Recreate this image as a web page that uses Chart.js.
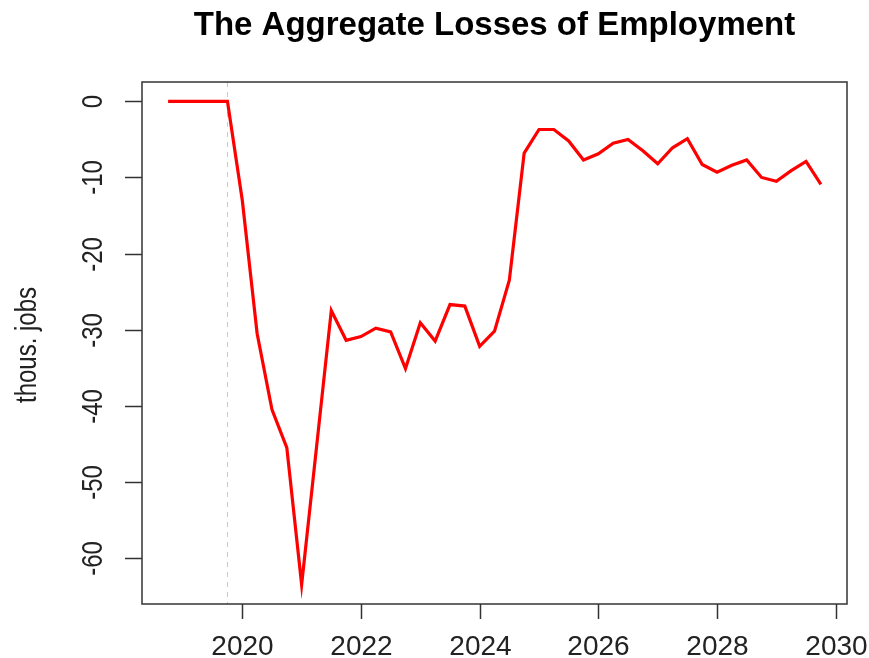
<!DOCTYPE html>
<html><head><meta charset="utf-8">
<script src="https://cdn.jsdelivr.net/npm/chart.js@4.4.1/dist/chart.umd.min.js"></script>
<style>html,body{margin:0;padding:0;background:#fff;}canvas{display:block;}</style>
</head><body>
<canvas id="c" width="869" height="658"></canvas>
<script>
// ---- data ----
const quarters = [2018.75, 2019.00, 2019.25, 2019.50, 2019.75,
  2020.00, 2020.25, 2020.50, 2020.75, 2021.00, 2021.25, 2021.50, 2021.75,
  2022.00, 2022.25, 2022.50, 2022.75, 2023.00, 2023.25, 2023.50, 2023.75,
  2024.00, 2024.25, 2024.50, 2024.75, 2025.00, 2025.25, 2025.50, 2025.75,
  2026.00, 2026.25, 2026.50, 2026.75, 2027.00, 2027.25, 2027.50, 2027.75,
  2028.00, 2028.25, 2028.50, 2028.75, 2029.00, 2029.25, 2029.50, 2029.75];
const losses = [0, 0, 0, 0, 0,
  -13.0, -30.5, -40.5, -45.5, -63.5, -45.5, -27.5, -31.4,
  -30.9, -29.8, -30.3, -35.1, -29.1, -31.5, -26.7, -26.9,
  -32.2, -30.2, -23.5, -6.8, -3.7, -3.7, -5.2, -7.7,
  -6.9, -5.5, -5.0, -6.5, -8.2, -6.1, -4.9, -8.3,
  -9.3, -8.4, -7.7, -10.0, -10.5, -9.1, -7.9, -10.9];
const xTickValues = [2020, 2022, 2024, 2026, 2028, 2030];
const yTickValues = [0, -10, -20, -30, -40, -50, -60];
const markerYear = 2019.75;
const titleText = 'The Aggregate Losses of Employment';
const yAxisTitle = 'thous. jobs';

const FONT = "'Liberation Sans', Arial, Helvetica, sans-serif";

const rStyle = {
  id: 'rStyle',
  beforeDatasetsDraw(chart) {
    const {ctx, chartArea: a, scales: {x}} = chart;
    const px = x.getPixelForValue(markerYear);
    ctx.save();
    ctx.strokeStyle = '#c8c8c8';
    ctx.lineWidth = 1;
    ctx.setLineDash([5, 5]);
    ctx.beginPath();
    ctx.moveTo(px, a.top);
    ctx.lineTo(px, a.bottom);
    ctx.stroke();
    ctx.restore();
  },
  afterDraw(chart) {
    const {ctx, chartArea: a, scales: {x, y}} = chart;
    ctx.save();
    ctx.strokeStyle = '#333';
    ctx.lineWidth = 1.5;
    ctx.strokeRect(a.left, a.top, a.right - a.left, a.bottom - a.top);
    // x axis ticks & labels
    ctx.fillStyle = '#222';
    ctx.font = '28px ' + FONT;
    ctx.textAlign = 'center';
    ctx.textBaseline = 'middle';
    xTickValues.forEach(v => {
      const px = Math.round(x.getPixelForValue(v)) + 0.5;
      ctx.beginPath();
      ctx.moveTo(px, a.bottom);
      ctx.lineTo(px, a.bottom + 15);
      ctx.stroke();
      ctx.fillText(String(v), px, a.bottom + 43);
    });
    // y axis ticks & rotated labels
    ctx.font = '24px ' + FONT;
    yTickValues.forEach(v => {
      const py = Math.round(y.getPixelForValue(v)) + 0.5;
      ctx.beginPath();
      ctx.moveTo(a.left, py);
      ctx.lineTo(a.left - 17, py);
      ctx.stroke();
      ctx.save();
      ctx.translate(94, py);
      ctx.rotate(-Math.PI / 2);
      ctx.scale(1, 1.22);
      ctx.fillText(String(v), 0, 0);
      ctx.restore();
    });
    // y axis title
    ctx.save();
    ctx.translate(28, (a.top + a.bottom) / 2 + 2);
    ctx.rotate(-Math.PI / 2);
    ctx.scale(1, 1.25);
    ctx.fillText(yAxisTitle, 0, 0);
    ctx.restore();
    ctx.restore();
  }
};

new Chart(document.getElementById('c'), {
  type: 'line',
  data: {
    datasets: [{
      data: quarters.map((q, i) => ({x: q, y: losses[i]})),
      borderColor: '#ff0000',
      borderWidth: 3.2,
      pointRadius: 0,
      tension: 0,
      fill: false
    }]
  },
  options: {
    responsive: false,
    animation: false,
    devicePixelRatio: 1,
    layout: {padding: {left: 142, right: 22, top: 0, bottom: 54}},
    plugins: {
      legend: {display: false},
      tooltip: {enabled: false},
      title: {
        display: true,
        text: titleText,
        color: '#000',
        font: {family: FONT, size: 33, weight: 'bold'},
        padding: {top: 6, bottom: 36.4}
      }
    },
    scales: {
      x: {type: 'linear', min: 2018.31, max: 2030.19, display: false},
      y: {type: 'linear', min: -66.04, max: 2.54, display: false}
    }
  },
  plugins: [rStyle]
});
</script>
</body></html>
